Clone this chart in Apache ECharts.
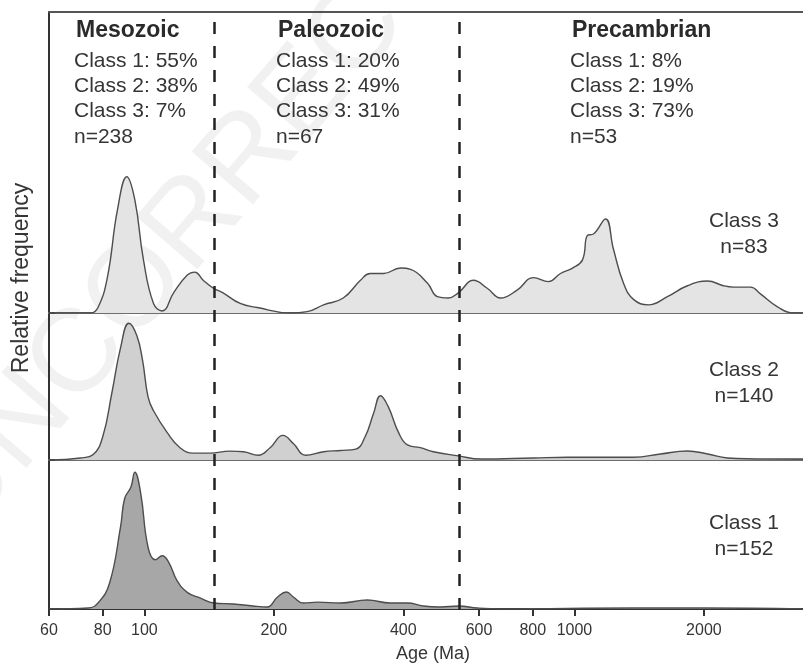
<!DOCTYPE html>
<html>
<head>
<meta charset="utf-8">
<title>Age spectra by class</title>
<script src="https://cdn.jsdelivr.net/npm/echarts@6/dist/echarts.min.js"></script>
<style>
  html, body { margin: 0; padding: 0; background: #fff; }
  #chart { width: 803px; height: 664px; }
</style>
</head>
<body>
<div id="chart"></div>
<script>
// ages in Ma, frequencies scaled so each class peaks at 1
const ageTicks = [60, 80, 100, 200, 400, 600, 800, 1000, 2000];
const eraBounds = [145, 541];

const class3Age = [60, 75, 78, 82, 86.6, 91, 95, 99.5, 105, 110, 117, 126, 131, 137, 145, 152, 167, 183, 218, 239,
  261, 290, 318, 335, 360, 394, 416, 455, 480, 509, 538, 582, 628, 673, 737, 803, 870, 928, 990, 1044,
  1072, 1107, 1181, 1232, 1300, 1372, 1486, 1645, 1831, 2039, 2221, 2343, 2567, 2707, 2966, 3231, 3400];
const class3Freq = [0, 0, 0.04, 0.26, 0.76, 1.0, 0.83, 0.39, 0.07, 0.015, 0.15, 0.28, 0.30, 0.24, 0.18, 0.15, 0.07, 0.04, 0, 0.01,
  0.06, 0.11, 0.24, 0.29, 0.29, 0.33, 0.32, 0.22, 0.12, 0.11, 0.15, 0.24, 0.18, 0.11, 0.17, 0.26, 0.23, 0.29, 0.33, 0.39,
  0.57, 0.58, 0.69, 0.47, 0.22, 0.10, 0.06, 0.12, 0.20, 0.235, 0.20, 0.19, 0.19, 0.14, 0.045, 0, 0];

const class2Age = [60, 71, 76, 80, 84, 88, 92, 96, 99, 102, 105, 113, 121, 130, 142, 158, 170, 184, 196, 210,
  222, 237, 261, 286, 310, 326, 341, 354, 369, 390, 409, 438, 470, 538, 605, 803, 963, 1372, 1585, 1831,
  2039, 2269, 2811, 3400];
const class2Freq = [0, 0.015, 0.04, 0.17, 0.49, 0.82, 1.0, 0.91, 0.73, 0.46, 0.36, 0.20, 0.09, 0.05, 0.05, 0.065, 0.06, 0.035, 0.09, 0.18,
  0.12, 0.035, 0.06, 0.07, 0.08, 0.17, 0.34, 0.47, 0.39, 0.20, 0.11, 0.09, 0.06, 0.03, 0.007, 0.015, 0.02, 0.02, 0.044, 0.066,
  0.044, 0.015, 0.007, 0.007];

const class1Age = [60, 74, 78, 83, 88, 90, 93, 95, 98, 102, 106, 110, 114, 119, 126, 135, 145, 161, 179, 193,
  204, 214, 222, 234, 253, 286, 330, 373, 409, 445, 488, 538, 595, 673, 1372, 2000, 3400];
const class1Freq = [0, 0.007, 0.044, 0.19, 0.60, 0.81, 0.89, 1.0, 0.85, 0.45, 0.36, 0.39, 0.34, 0.21, 0.12, 0.08, 0.044, 0.037, 0.022, 0.015,
  0.088, 0.124, 0.088, 0.044, 0.05, 0.044, 0.066, 0.044, 0.044, 0.022, 0.015, 0.022, 0.007, 0, 0.007, 0.007, 0];

const classNames = ['Class 3', 'Class 2', 'Class 1'];
const classCounts = [83, 140, 152];

const eraNames = ['Mesozoic', 'Paleozoic', 'Precambrian'];
const eraClass1 = [55, 20, 8];
const eraClass2 = [38, 49, 19];
const eraClass3 = [7, 31, 73];
const eraCounts = [238, 67, 53];

const FONT = '"Liberation Sans", Arial, Helvetica, sans-serif';
const TXT = '#353535';
const ageMin = 60, ageMax = 3400;

const chart = echarts.init(document.getElementById('chart'));

// panel layout (top to bottom: class 3, class 2, class 1)
const panels = [
  { top: 12, height: 301, yMax: 2.21, fill: '#e4e4e4', age: class3Age, freq: class3Freq, labelY: 221 },
  { top: 313, height: 147, yMax: 1.075, fill: '#d0d0d0', age: class2Age, freq: class2Freq, labelY: 370 },
  { top: 460, height: 150, yMax: 1.09, fill: '#a7a7a7', age: class1Age, freq: class1Freq, labelY: 523 }
];

const grids = panels.map(p => ({ left: 49, right: 0, top: p.top, height: p.height }));
grids.push({ left: 49, right: 0, top: 20, height: 590 }); // overlay for era boundaries

const xAxes = panels.map((p, i) => {
  const last = i === panels.length - 1;
  return {
    type: 'log', logBase: 10, gridIndex: i, min: ageMin, max: ageMax,
    name: last ? 'Age (Ma)' : '',
    nameLocation: 'middle', nameGap: 36,
    nameTextStyle: { fontFamily: FONT, fontSize: 18, color: TXT, padding: [0, 0, 0, 14] },
    axisLine: { show: true, lineStyle: { color: last ? '#333' : '#6e6e6e', width: 2 } },
    axisTick: { show: last, customValues: ageTicks, length: 7, lineStyle: { color: '#333', width: 2 } },
    axisLabel: {
      show: last, customValues: ageTicks, margin: 14,
      fontFamily: FONT, fontSize: 16, color: TXT,
      formatter: v => String(Math.round(v))
    },
    splitLine: { show: false }
  };
});
// top frame line of the upper panel
xAxes.push({
  type: 'log', logBase: 10, gridIndex: 0, min: ageMin, max: ageMax, position: 'top',
  axisLine: { show: true, lineStyle: { color: '#555', width: 2 } },
  axisTick: { show: false }, axisLabel: { show: false }, splitLine: { show: false }
});
xAxes.push({
  type: 'log', logBase: 10, gridIndex: 3, min: ageMin, max: ageMax, show: false
});

const yAxes = panels.map((p, i) => ({
  type: 'value', gridIndex: i, min: 0, max: p.yMax,
  axisLine: { show: true, lineStyle: { color: '#333', width: 2 } },
  axisTick: { show: i > 0, inside: true, length: 6, customValues: [p.yMax], lineStyle: { color: '#333', width: 1.5 } },
  axisLabel: { show: false },
  splitLine: { show: false }
}));
yAxes.push({ type: 'value', gridIndex: 3, min: 0, max: 1, show: false });

const series = panels.map((p, i) => ({
  name: classNames[i],
  type: 'line',
  xAxisIndex: i, yAxisIndex: i,
  data: p.age.map((a, k) => [a, p.freq[k]]),
  smooth: 0.45,
  symbol: 'none',
  lineStyle: { color: '#4d4d4d', width: 1.4 },
  areaStyle: { color: p.fill, opacity: 1 },
  z: 2
}));
series.push({
  type: 'line', xAxisIndex: 4, yAxisIndex: 3, data: [], z: 5,
  markLine: {
    silent: true, symbol: 'none', label: { show: false },
    lineStyle: { color: '#222', width: 2.5, type: [12, 12] },
    data: eraBounds.map(b => ({ xAxis: b }))
  }
});

const graphics = [];
// proof watermark
graphics.push({
  type: 'text', x: -105, y: 480, rotation: 0.86, z: -10, silent: true,
  style: { text: 'UNCORRECTED PROOF', font: '118px ' + FONT, fill: 'rgba(0,0,0,0.055)' }
});
graphics.push({
  type: 'text', x: 22, y: 278, rotation: Math.PI / 2, z: 10,
  style: { text: 'Relative frequency', font: '23px ' + FONT, fill: TXT, align: 'center', verticalAlign: 'middle' }
});
const eraX = [76, 278, 572];
const lineY = [31, 61, 86, 111, 137];
eraNames.forEach((name, i) => {
  const lines = [
    'Class 1: ' + eraClass1[i] + '%',
    'Class 2: ' + eraClass2[i] + '%',
    'Class 3: ' + eraClass3[i] + '%',
    'n=' + eraCounts[i]
  ];
  graphics.push({
    type: 'text', x: eraX[i], y: lineY[0], z: 10,
    style: { text: name, font: 'bold 23px ' + FONT, fill: '#2a2a2a', verticalAlign: 'middle' }
  });
  lines.forEach((t, k) => graphics.push({
    type: 'text', x: eraX[i] - 2, y: lineY[k + 1], z: 10,
    style: { text: t, font: '21px ' + FONT, fill: TXT, verticalAlign: 'middle' }
  }));
});
panels.forEach((p, i) => {
  graphics.push({
    type: 'text', x: 744, y: p.labelY, z: 10,
    style: { text: classNames[i], font: '21px ' + FONT, fill: TXT, align: 'center', verticalAlign: 'middle' }
  });
  graphics.push({
    type: 'text', x: 744, y: p.labelY + 26, z: 10,
    style: { text: 'n=' + classCounts[i], font: '21px ' + FONT, fill: TXT, align: 'center', verticalAlign: 'middle' }
  });
});

chart.setOption({
  backgroundColor: '#fff',
  animation: false,
  grid: grids,
  xAxis: xAxes,
  yAxis: yAxes,
  series: series,
  graphic: graphics
});
</script>
</body>
</html>
